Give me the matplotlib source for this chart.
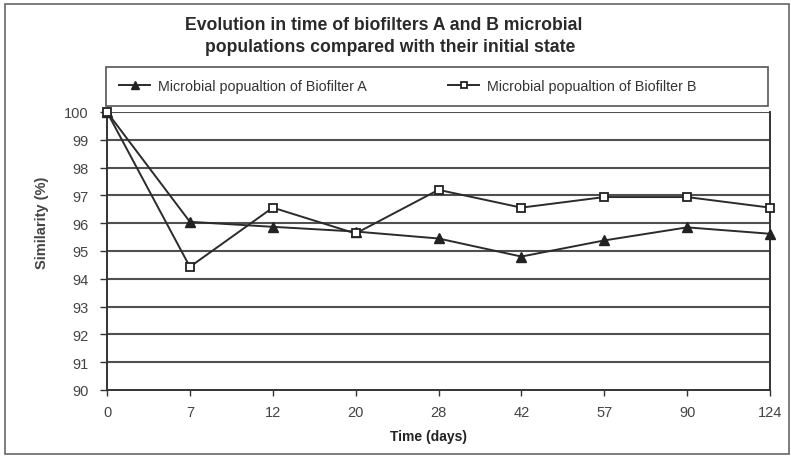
import numpy as np
import matplotlib
matplotlib.use("Agg")
import matplotlib.pyplot as plt
from matplotlib.patches import Rectangle

plt.rcParams["font.family"] = ["Liberation Sans", "DejaVu Sans"]

# data
days = ["0", "7", "12", "20", "28", "42", "57", "90", "124"]
biofilter_a = [100.0, 96.05, 95.87, 95.70, 95.45, 94.80, 95.38, 95.85, 95.62]
biofilter_b = [100.0, 94.43, 96.56, 95.63, 97.20, 96.56, 96.94, 96.94, 96.56]
y_ticks = list(range(90, 101))
title_lines = ["Evolution in time of biofilters A and B microbial",
               "populations compared with their initial state"]
labels = ["Microbial popualtion of Biofilter A",
          "Microbial popualtion of Biofilter B"]

W, H = 791, 460
line_col = "#2b2b2b"
grid_col = "#505050"
text_col = "#333333"


def fx(px):
    return px / W


def fy(py):
    return 1 - py / H


fig = plt.figure(figsize=(W / 100, H / 100), dpi=100)
fig.patch.set_facecolor("white")

# outer chart frame and legend frame
fig.patches.append(Rectangle((fx(5), fy(455)), fx(784), 450 / H,
                             transform=fig.transFigure, fill=False,
                             edgecolor="#666666", linewidth=1.2))
fig.patches.append(Rectangle((fx(106), fy(107)), fx(662), 39 / H,
                             transform=fig.transFigure, fill=False,
                             edgecolor="#555555", linewidth=1.2))

ax = fig.add_axes([fx(107), fy(391), fx(663), 278 / H])
x = np.arange(len(days))

ax.set_xlim(0, len(days) - 1)
ax.set_ylim(90, 100)
ax.set_yticks(y_ticks)
ax.set_xticks(x)
ax.set_xticklabels(days)
for yv in y_ticks[1:]:
    ax.axhline(yv, color=grid_col, linewidth=1.5, zorder=1)

la, = ax.plot(x, biofilter_a, color=line_col, linewidth=1.4, marker="^",
              markersize=6.5, markerfacecolor="#222222", markeredgecolor="#222222",
              clip_on=False, zorder=3)
lb, = ax.plot(x, biofilter_b, color=line_col, linewidth=1.4, marker="s",
              markersize=6.2, markerfacecolor="white", markeredgecolor="#222222",
              markeredgewidth=1.3, clip_on=False, zorder=4)

ax.spines["top"].set_visible(False)
for side in ["left", "right", "bottom"]:
    ax.spines[side].set_color("#333333")
    ax.spines[side].set_linewidth(1.4)

ax.tick_params(axis="both", direction="out", width=1.0, color="#333333",
               labelsize=10.5, labelcolor="#444444")
ax.tick_params(axis="x", length=4, pad=7)
ax.tick_params(axis="y", length=5, pad=8)

fig.text(fx(428), fy(437), "Time (days)", ha="center", va="center",
         fontsize=10, fontweight="bold", color="#222222")
fig.text(fx(42), fy(223), "Similarity (%)", ha="center", va="center",
         rotation=90, fontsize=10.5, fontweight="bold", color="#444444")

fig.text(fx(384), fy(25), title_lines[0], ha="center", va="center",
         fontsize=12.7, fontweight="bold", color="#2a2a2a")
fig.text(fx(390), fy(48), title_lines[1], ha="center", va="center",
         fontsize=12.7, fontweight="bold", color="#2a2a2a")

leg = fig.legend([la, lb], labels, loc="center left",
                 bbox_to_anchor=(fx(119), fy(87)), ncol=2, frameon=False,
                 fontsize=10.3, handlelength=2.2, handletextpad=0.5,
                 columnspacing=5.7, borderpad=0, borderaxespad=0,
                 markerscale=0.8)
for t in leg.get_texts():
    t.set_color(text_col)

fig.savefig("out.png", dpi=100)
